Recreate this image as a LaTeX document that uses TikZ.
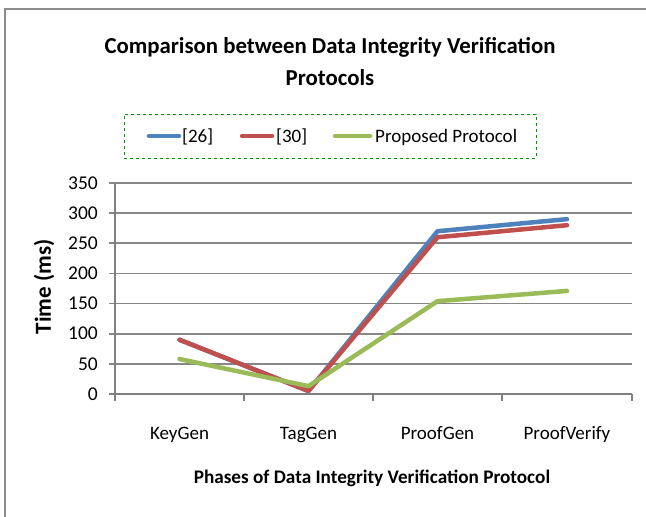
\documentclass[tikz,border=0pt]{standalone}
\usepackage{fontspec}
\setmainfont{Carlito}
\begin{document}
\begin{tikzpicture}[x=1pt,y=-1pt,
  grid/.style={draw=black!47,line width=1.6pt},
  axisline/.style={draw=black!50,line width=1.8pt},
  series/.style={line width=4.5pt,line join=round,line cap=round},
  blueS/.style={series,draw=sblue},
  redS/.style={series,draw=sred},
  greenS/.style={series,draw=sgreen},
  ticklab/.style={font=\fontsize{19.5}{19.5}\selectfont,anchor=east,inner sep=0pt},
  catlab/.style={font=\fontsize{19}{19}\selectfont,inner sep=0pt,anchor=base},
  leglab/.style={font=\fontsize{19}{19}\selectfont,anchor=base west,inner sep=0pt},
  legline/.style={line width=4.5pt,line cap=round}]
\definecolor{sblue}{HTML}{4F81BD}
\definecolor{sred}{HTML}{C0504D}
\definecolor{sgreen}{HTML}{9BBB59}
\useasboundingbox (0,0) rectangle (646,517);
\fill[white] (0,0) rectangle (646,517);
% outer frame
\draw[draw=black!45,line width=1.5pt] (5,517) -- (5,9) -- (646,9);
% title
\node[font=\bfseries\fontsize{22.8}{32}\selectfont,align=center] (title) at (330,62)
  {Comparison between Data Integrity Verification\\Protocols};
% legend
\node[draw=green!60!black,dashed,line width=0.9pt,minimum width=412pt,minimum height=44pt] (legend) at (330,136) {};
\coordinate (lb1) at (149,136); \coordinate (lb2) at (179,136);
\coordinate (lr1) at (242,136); \coordinate (lr2) at (272,136);
\coordinate (lg1) at (335,136); \coordinate (lg2) at (370,136);
\draw[legline,sblue] (lb1) -- (lb2);
\node[leglab] (l26) at (182,142.5) {[26]};
\draw[legline,sred] (lr1) -- (lr2);
\node[leglab] (l30) at (276,142.5) {[30]};
\draw[legline,sgreen] (lg1) -- (lg2);
\node[leglab] (lpp) at (375,142.5) {Proposed Protocol};
% gridlines and y labels
\foreach \v in {50,100,...,350}{
  \draw[grid] (109,{394-0.6029*\v}) -- (632,{394-0.6029*\v});
}
\foreach \v in {0,50,...,350}{
  \node[ticklab] at (98,{394-0.6029*\v}) {\v};
}
% axes
\coordinate (yb) at (115,394);
\coordinate (yt) at (115,183);
\coordinate (xr) at (632,394);
\draw[axisline] (yt) -- (yb);
\draw[axisline] (109,394) -- (xr);
\foreach \x in {115,244,373,502,632}{
  \draw[axisline] (\x,394) -- (\x,401);
}
% category labels
\node[catlab] (c1) at (179.5,439) {KeyGen};
\node[catlab] (c2) at (308.5,439) {TagGen};
\node[catlab] (c3) at (437.5,439) {ProofGen};
\node[catlab] (c4) at (567,439) {ProofVerify};
% axis titles
\node[font=\bfseries\fontsize{19.2}{19.2}\selectfont] (xt) at (372,478) {Phases of Data Integrity Verification Protocol};
\node[font=\bfseries\fontsize{23}{23}\selectfont,rotate=90] (yl) at (44,287) {Time (ms)};
% data points
\coordinate (b1) at (179.5,{394-0.6029*90});
\coordinate (b2) at (308.5,{394-0.6029*5});
\coordinate (b3) at (437.5,{394-0.6029*270});
\coordinate (b4) at (567,{394-0.6029*290});
\coordinate (r1) at (179.5,{394-0.6029*90});
\coordinate (r2) at (308.5,{394-0.6029*5});
\coordinate (r3) at (437.5,{394-0.6029*260});
\coordinate (r4) at (567,{394-0.6029*280});
\coordinate (g1) at (179.5,{394-0.6029*58});
\coordinate (g2) at (308.5,{394-0.6029*13});
\coordinate (g3) at (437.5,{394-0.6029*154});
\coordinate (g4) at (567,{394-0.6029*171});
\draw[blueS] (b1) -- (b2) -- (b3) -- (b4);
\draw[redS] (r1) -- (r2) -- (r3) -- (r4);
\draw[greenS] (g1) -- (g2) -- (g3) -- (g4);
\end{tikzpicture}
\end{document}
